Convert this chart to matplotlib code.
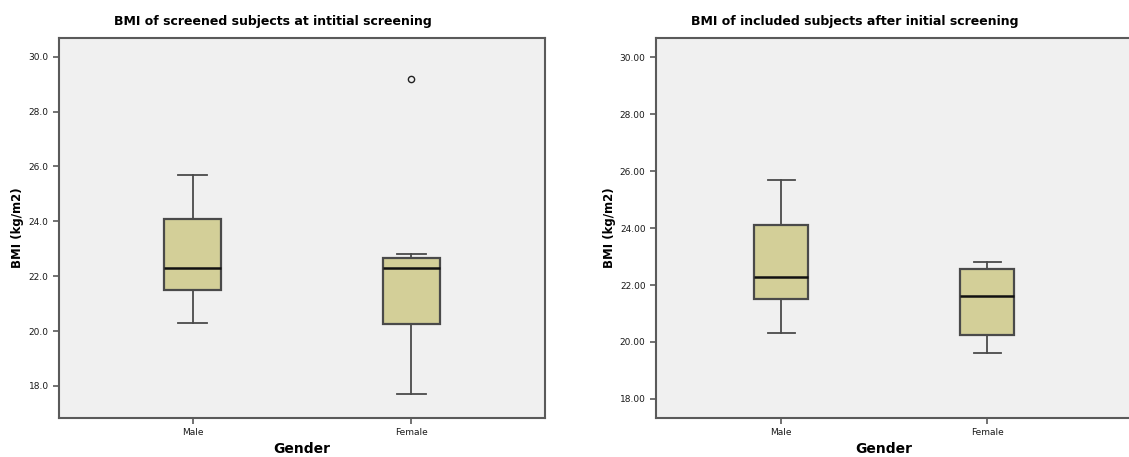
import numpy as np
import matplotlib.pyplot as plt

# ── Data ────────────────────────────────────────────────────────────────────────
genders = ["Male", "Female"]

# screened subjects at initial screening
scr_whislo = [20.3, 17.7]
scr_q1     = [21.5, 20.25]
scr_med    = [22.3, 22.3]
scr_q3     = [24.1, 22.65]
scr_whishi = [25.7, 22.8]
scr_fliers = [[], [29.2]]

# included subjects after initial screening
inc_whislo = [20.3, 19.6]
inc_q1     = [21.5, 20.25]
inc_med    = [22.3, 21.6]
inc_q3     = [24.1, 22.55]
inc_whishi = [25.7, 22.8]
inc_fliers = [[], []]

yticks = [18, 20, 22, 24, 26, 28, 30]

# ── Style ───────────────────────────────────────────────────────────────────────
box_fill = "#d3cf98"
edge_col = "#4a4a4a"
bg_col = "#f0f0f0"
spine_col = "#5a5a5a"


def make_stats(lo, q1, med, q3, hi, fl):
    return [dict(whislo=a, q1=b, med=c, q3=d, whishi=e, fliers=f, label=g)
            for a, b, c, d, e, f, g in zip(lo, q1, med, q3, hi, fl, genders)]


def draw(ax, stats, fmt, ylim, xlim):
    ax.set_facecolor(bg_col)
    ax.bxp(stats, positions=[1, 2], widths=0.26, patch_artist=True,
           showfliers=True,
           boxprops=dict(facecolor=box_fill, edgecolor=edge_col, lw=1.6),
           medianprops=dict(color="#111111", lw=1.8),
           whiskerprops=dict(color=edge_col, lw=1.3),
           capprops=dict(color=edge_col, lw=1.3),
           capwidths=0.13,
           flierprops=dict(marker="o", markersize=4.5, markerfacecolor="none",
                           markeredgecolor="#222222", markeredgewidth=1.0))
    ax.set_xlim(*xlim)
    ax.set_ylim(*ylim)
    ax.set_yticks(yticks)
    ax.set_yticklabels([fmt.format(v) for v in yticks])
    ax.set_xticks([1, 2])
    ax.set_xticklabels(genders)
    ax.tick_params(axis="both", labelsize=6.5, length=4, width=1.2,
                   color=spine_col, labelcolor="#1a1a1a", direction="out")
    for s in ax.spines.values():
        s.set_color(spine_col)
        s.set_linewidth(1.5)
    ax.set_ylabel("BMI (kg/m2)", fontsize=8.5, fontweight="bold")
    ax.set_xlabel("Gender", fontsize=10, fontweight="bold")


W, H = 1129, 457
fig = plt.figure(figsize=(W / 100, H / 100), dpi=100)
fig.patch.set_facecolor("white")

# left panel: axes 59..545 px, 38..418 px
ax1 = fig.add_axes([59 / W, (H - 418) / H, 486 / W, 380 / H])
draw(ax1, make_stats(scr_whislo, scr_q1, scr_med, scr_q3, scr_whishi, scr_fliers),
     "{:.1f}", (16.83, 30.68), (0.39, 2.61))
ax1.yaxis.set_label_coords(-(59 - 24) / 486, 0.5)
ax1.xaxis.set_label_coords(0.5, -(442 - 418) / 380)

# right panel: axes 656.. beyond right edge
rw = 1131 - 656
ax2 = fig.add_axes([656 / W, (H - 418) / H, rw / W, 380 / H])
x0 = 0.392
x1 = x0 + rw / 206.0
draw(ax2, make_stats(inc_whislo, inc_q1, inc_med, inc_q3, inc_whishi, inc_fliers),
     "{:.2f}", (17.33, 30.68), (x0, x1))
ax2.yaxis.set_label_coords(-(656 - 616) / rw, 0.5)
ax2.xaxis.set_label_coords((884 - 656) / rw, -(442 - 418) / 380)

fig.text(273 / W, 1 - 21 / H, "BMI of screened subjects at intitial screening",
         ha="center", va="center", fontsize=9, fontweight="bold")
fig.text(855 / W, 1 - 21 / H, "BMI of included subjects after initial screening",
         ha="center", va="center", fontsize=9, fontweight="bold")

fig.savefig("out.png", dpi=100, facecolor=fig.get_facecolor())
